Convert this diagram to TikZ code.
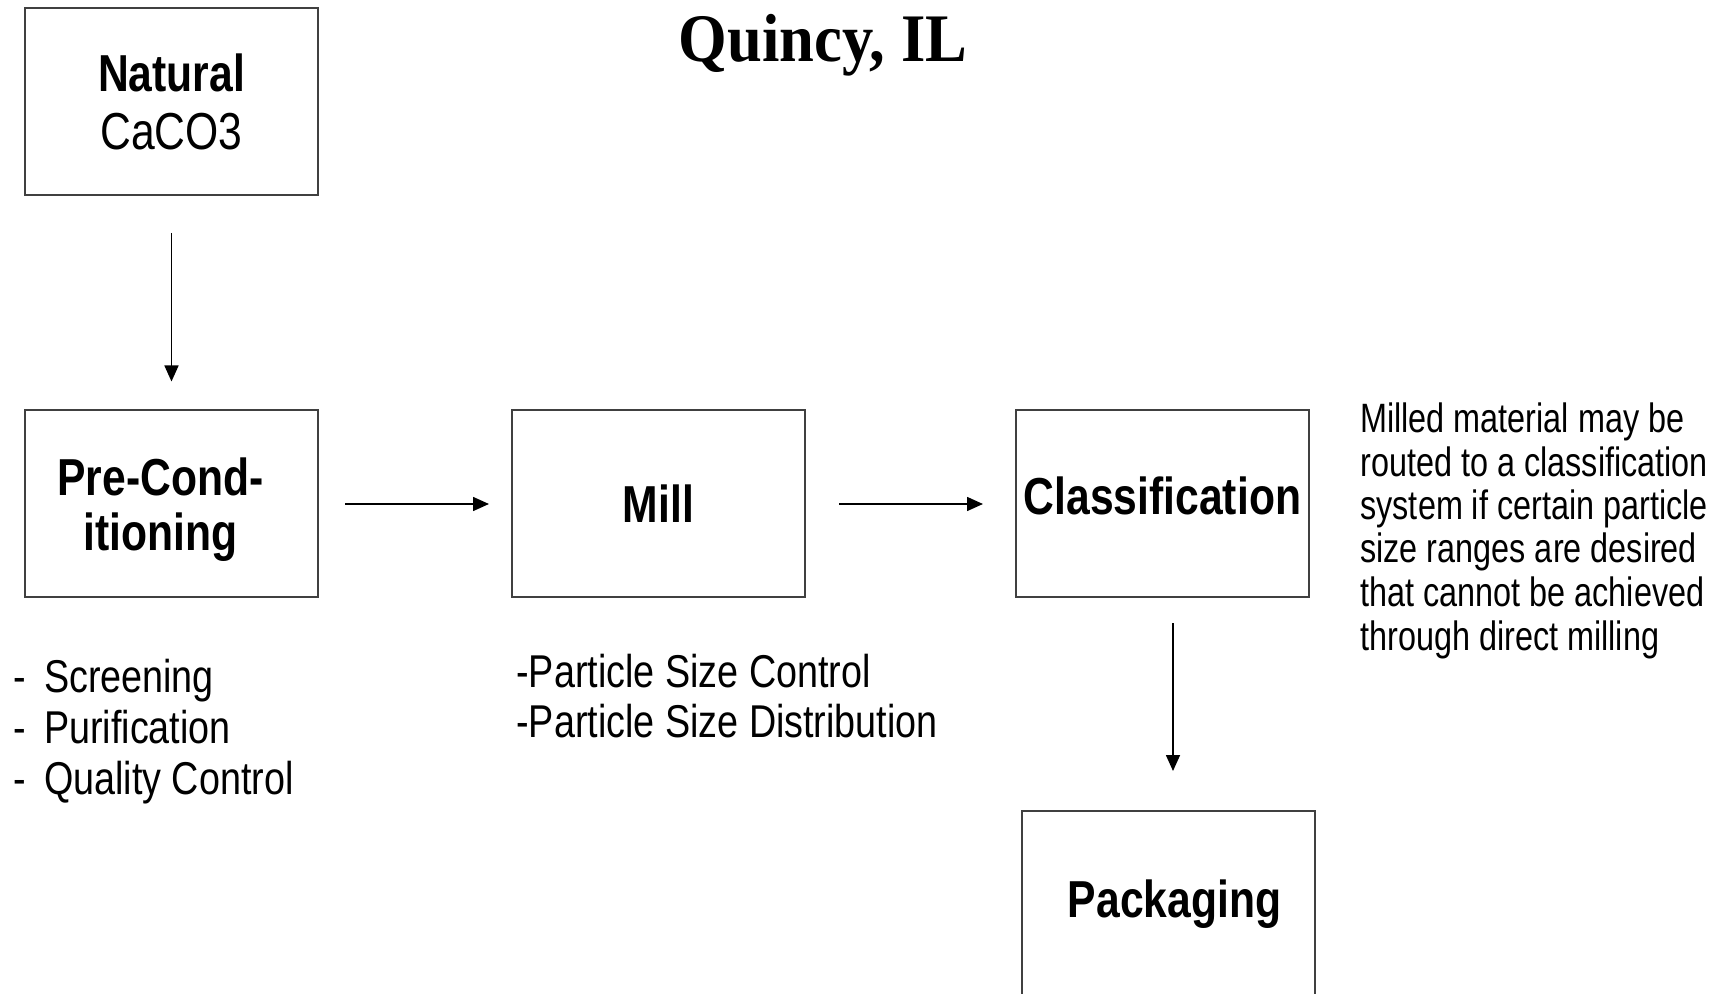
\documentclass[tikz,border=0pt]{standalone}
\usepackage{fontspec}
\setmainfont{Liberation Sans}[FakeStretch=0.82]
\newfontfamily\notefont{Liberation Sans}[FakeStretch=0.79]
\newfontfamily\titlefont{Liberation Serif}[FakeStretch=0.92]
\usetikzlibrary{arrows.meta}

\begin{document}
\begin{tikzpicture}[x=0.5pt,y=-0.5pt,
  stage/.style={draw=black!75,line width=1pt,minimum width=146.5pt,minimum height=93.5pt,
    inner sep=0pt,align=center,font=\fontsize{26}{28}\selectfont\bfseries},
  flow/.style={draw=black,line width=0.8pt,-{Triangle[length=8pt,width=7pt]}},
  notes/.style={inner sep=0pt,anchor=base west,align=left,font=\fontsize{23}{25.5}\selectfont}]
\clip (0,0) rectangle (1720,994);
\node[font=\titlefont\bfseries\fontsize{34}{34}\selectfont,anchor=base] (title) at (823,62) {Quincy, IL};
\node[stage,font=\fontsize{26}{29}\selectfont\bfseries] (caco3) at (171.5,101.5) {Natural\\{\mdseries CaCO3}};
\node[stage,font=\fontsize{26}{27.5}\selectfont\bfseries] (precond) at (171.5,504)
  {\rule{0pt}{25pt}Pre-Cond-\rule{11pt}{0pt}\\itioning\rule{11pt}{0pt}};
\node[stage] (mill) at (658.5,504) {Mill};
\node[stage] (class) at (1162.5,504) {Classification\rule[-8pt]{0pt}{8pt}};
\node[stage] (pack) at (1168.5,904.5) {\hspace*{6pt}Packaging};
\draw[flow,shorten <=18.5pt,shorten >=14pt] (caco3) -- (precond);
\draw[flow,shorten <=13pt,shorten >=11pt] (precond) -- (mill);
\draw[flow,shorten <=16.5pt,shorten >=16pt] (mill) -- (class);
\draw[flow,shorten <=12.5pt,shorten >=19.5pt] ([xshift=5.25pt]class.south) -- ([xshift=2.25pt]pack.north);
\node[notes] (steps) at (13,794) {-\, Screening\\-\, Purification\\-\, Quality Control};
\node[notes,font=\fontsize{23}{25}\selectfont] (millnotes) at (516,737) {-Particle Size Control\\-Particle Size Distribution};
\node[notes,font=\notefont\fontsize{20.5}{21.75}\selectfont] (classnote) at (1360,650)
  {Milled material may be\\routed to a classification\\system if certain particle\\size ranges are desired\\that cannot be achieved\\through direct milling};
\end{tikzpicture}
\end{document}
